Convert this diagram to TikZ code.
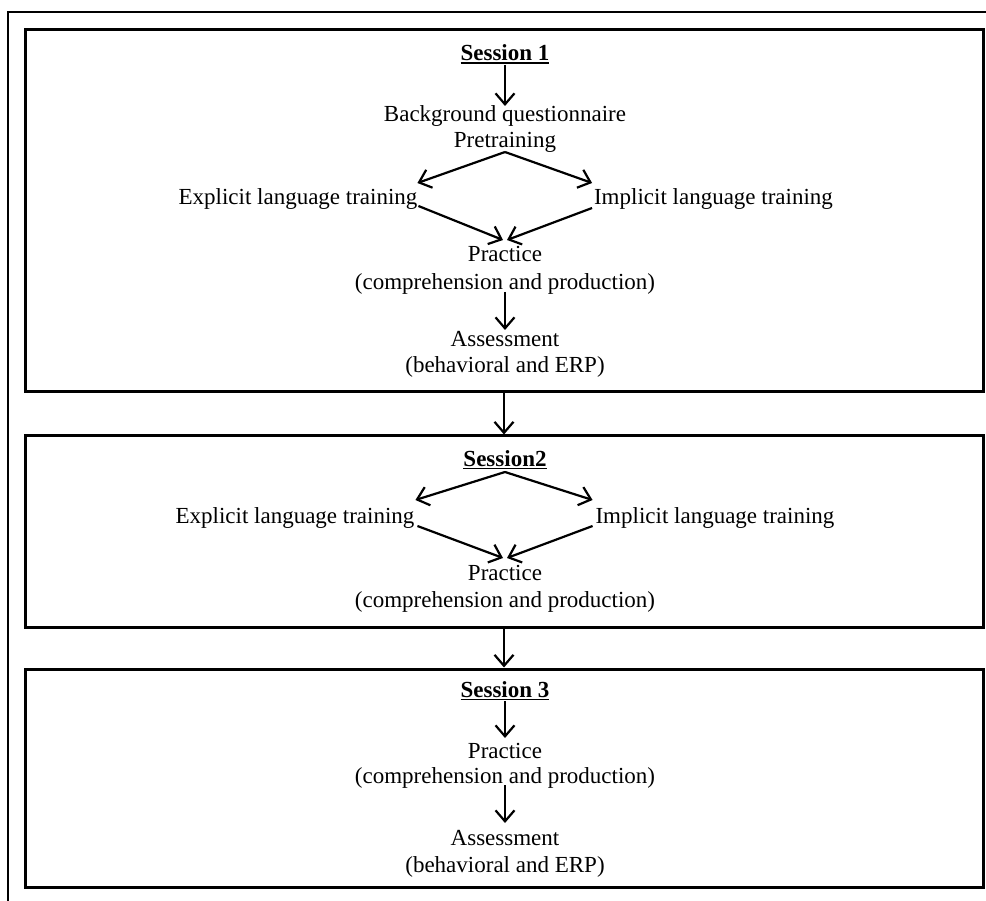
\documentclass[tikz,border=0pt]{standalone}
\usepackage{fontspec}
\setmainfont{Liberation Serif}
\usetikzlibrary{arrows.meta}
\newcommand\ulbox[1]{\setbox0\hbox{#1}\rlap{\rule[-3.2pt]{\wd0}{1.7pt}}\box0}
\tikzset{
  txt/.style={inner sep=0pt, outer sep=0pt, anchor=base, text height=16pt, text depth=0pt,
              font=\fontsize{23pt}{27pt}\selectfont},
  sess/.style={txt, font=\fontsize{23pt}{27pt}\selectfont\bfseries},
  boxst/.style={draw, line width=3pt, inner sep=0pt, minimum width=958pt},
  arr/.style={line width=2.2pt, -{Straight Barb[length=11pt,width=19pt]}},
}
\begin{document}
\begin{tikzpicture}[x=1pt,y=-1pt]
\useasboundingbox (0,0) rectangle (986,901);
% outer frame
\draw[line width=2pt] (986,12) -- (8,12) -- (8,901);
% boxes
\node[boxst, minimum height=362pt] (b1) at (504,211) {};
\node[boxst, minimum height=191pt] (b2) at (504,531.5) {};
\node[boxst, minimum height=218pt] (b3) at (504,778) {};
\draw[arr] (b1.south) -- (b2.north);
\draw[arr] (b2.south) -- (b3.north);
% Session 1
\node[sess] (s1) at (505,61) {\ulbox{Session 1}};
\node[txt] (bq) at (505,122) {Background questionnaire};
\node[txt] (pre) at (505,148) {Pretraining};
\node[txt] (el1) at (298,205) {Explicit language training};
\node[txt] (il1) at (713.5,205) {Implicit language training};
\node[txt] (pr1) at (505,262) {Practice};
\node[txt] (cp1) at (505,290) {(comprehension and production)};
\node[txt] (as1) at (505,347) {Assessment};
\node[txt] (bh1) at (505,373) {(behavioral and ERP)};
\draw[arr] ([yshift=-4pt]s1.south) -- (bq.north);
\draw[arr] ([yshift=-4pt]pre.south) -- ([yshift=6pt]el1.north east);
\draw[arr] ([yshift=-4pt]pre.south) -- ([xshift=-2pt,yshift=6pt]il1.north west);
\draw[arr] ([xshift=1pt,yshift=-1pt]el1.south east) -- ([xshift=-2pt,yshift=6pt]pr1.north);
\draw[arr] ([xshift=-2pt,yshift=-3pt]il1.south west) -- ([xshift=2pt,yshift=6pt]pr1.north);
\draw[arr] ([yshift=-2pt]cp1.south) -- ([yshift=1pt]as1.north);
% Session 2
\node[sess] (s2) at (505,466) {\ulbox{Session2}};
\node[txt] (el2) at (295,523) {Explicit language training};
\node[txt] (il2) at (715,523) {Implicit language training};
\node[txt] (pr2) at (505,580) {Practice};
\node[txt] (cp2) at (505,607) {(comprehension and production)};
\draw[arr] ([yshift=-6pt]s2.south) -- ([xshift=1pt,yshift=7pt]el2.north east);
\draw[arr] ([yshift=-6pt]s2.south) -- ([xshift=-3pt,yshift=7pt]il2.north west);
\draw[arr] ([xshift=3pt,yshift=-3pt]el2.south east) -- ([xshift=-2pt,yshift=6pt]pr2.north);
\draw[arr] ([xshift=-3pt,yshift=-3pt]il2.south west) -- ([xshift=2pt,yshift=6pt]pr2.north);
% Session 3
\node[sess] (s3) at (505,697) {\ulbox{Session 3}};
\node[txt] (pr3) at (505,758) {Practice};
\node[txt] (cp3) at (505,783) {(comprehension and production)};
\node[txt] (as3) at (505,845) {Assessment};
\node[txt] (bh3) at (505,872) {(behavioral and ERP)};
\draw[arr] ([yshift=-4pt]s3.south) -- ([yshift=4pt]pr3.north);
\draw[arr] ([yshift=-2pt]cp3.south) -- ([yshift=6pt]as3.north);
\end{tikzpicture}
\end{document}
